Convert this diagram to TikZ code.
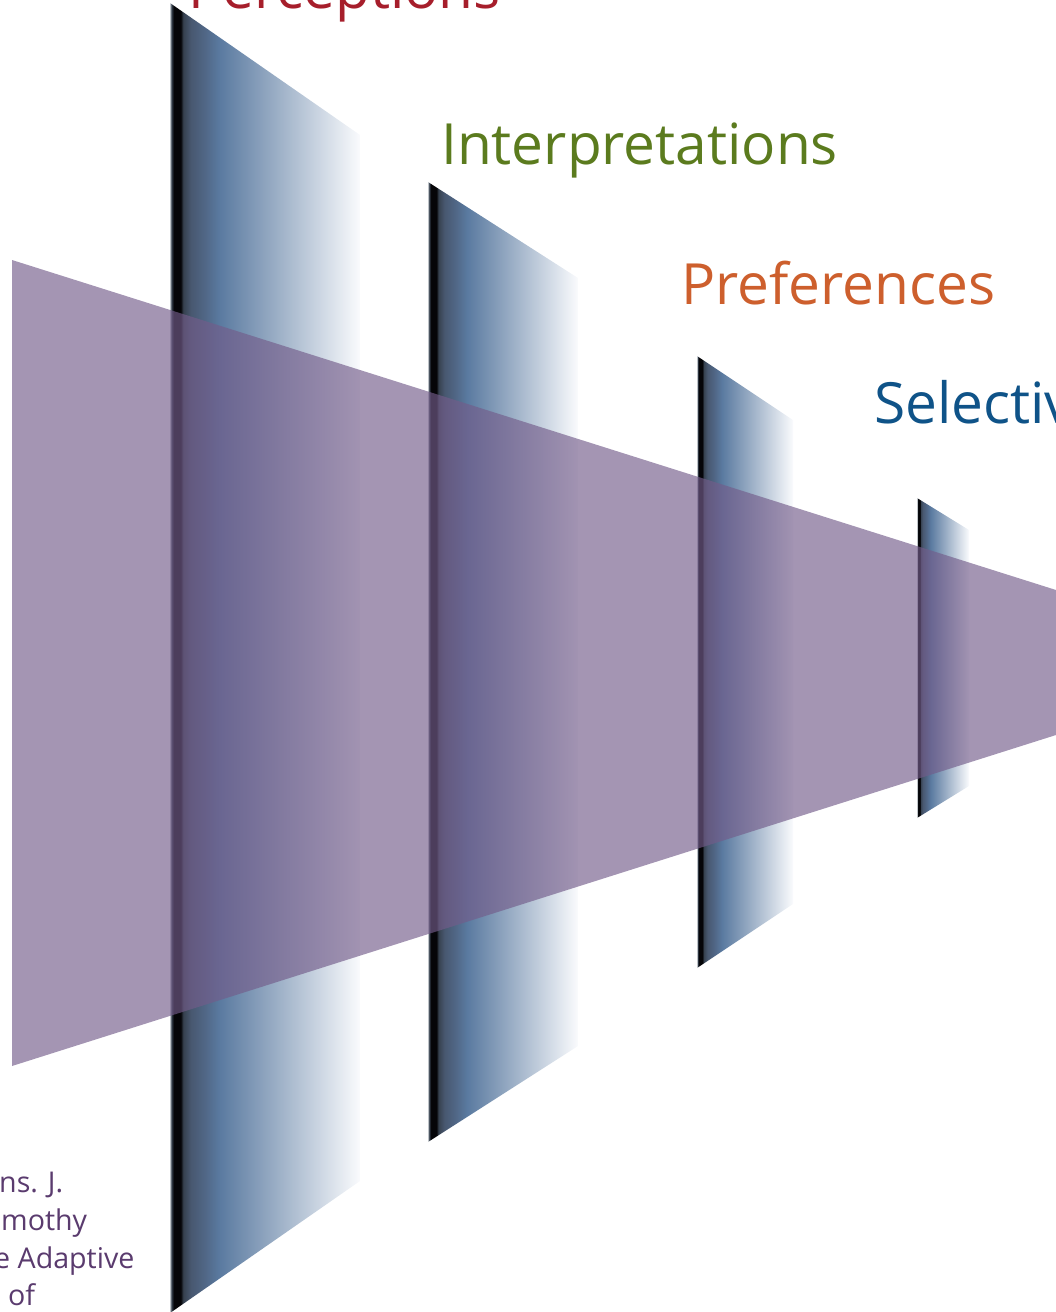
\documentclass[tikz,border=0pt]{standalone}
\usepackage{fontspec}
\setmainfont{Open Sans}
\definecolor{percred}{HTML}{A61E2B}
\definecolor{interpgreen}{HTML}{5B7B1E}
\definecolor{preforange}{HTML}{CD5F2D}
\definecolor{selblue}{HTML}{0F5388}
\definecolor{funnelpurple}{HTML}{735C8A}
\definecolor{srcpurple}{HTML}{5A3B6E}
\definecolor{pedge}{RGB}{190,195,200}
\definecolor{pdarka}{RGB}{52,62,76}
\definecolor{pblack}{RGB}{5,5,8}
\definecolor{pdarkb}{RGB}{54,65,79}
\definecolor{pmida}{RGB}{72,88,112}
\definecolor{pmidb}{RGB}{80,102,133}
\definecolor{ppeak}{RGB}{90,122,160}
\definecolor{pend}{RGB}{250,251,253}
\pgfdeclarehorizontalshading{panelshade}{100bp}{color(0bp)=(pedge); color(25bp)=(pedge);
  color(25.4bp)=(pdarka); color(26bp)=(pblack); color(27.8bp)=(pblack); color(28.5bp)=(pdarkb);
  color(30.5bp)=(pmida); color(34bp)=(pmidb); color(38bp)=(ppeak);
  color(75bp)=(pend); color(100bp)=(pend)}
\begin{document}
\begin{tikzpicture}[x=1pt,y=-1pt,
  stage/.style={anchor=base west,inner sep=0pt,font=\fontsize{56.8}{60}\selectfont},
  src/.style={anchor=base west,inner sep=0pt,text=srcpurple,font=\fontsize{28.6}{33}\selectfont}]
\useasboundingbox (0,0) rectangle (1056,1312);
\clip (0,0) rectangle (1056,1312);
% panels
\foreach \lx/\lt/\rx/\rt/\cy in {170/3/360/135/658, 428/182/578/278/662, 697/356/793/420/662, 917/498/969/530/658}
  \shade[shading=panelshade] (\lx,\lt) -- (\rx,\rt) -- (\rx,{2*\cy-\rt}) -- (\lx,{2*\cy-\lt}) -- cycle;
% funnel
\fill[funnelpurple,fill opacity=0.65] (12,260) -- (1056,590) -- (1056,735) -- (12,1066) -- cycle;
% labels
\node[stage,text=percred] (percep) at (188,8) {Perceptions};
\node[stage,text=interpgreen] (interp) at (441,164) {Interpretations};
\node[stage,text=preforange] (pref) at (681,304) {Preferences};
\node[stage,text=selblue] (select) at (874,423) {Selective};
\foreach \t/\x/\y [count=\i] in {ns. J./-1/1192, mothy/1/1230, e Adaptive/-6/1268, of/8/1305}
  \node[src] (src\i) at (\x,\y) {\t};
\end{tikzpicture}
\end{document}
